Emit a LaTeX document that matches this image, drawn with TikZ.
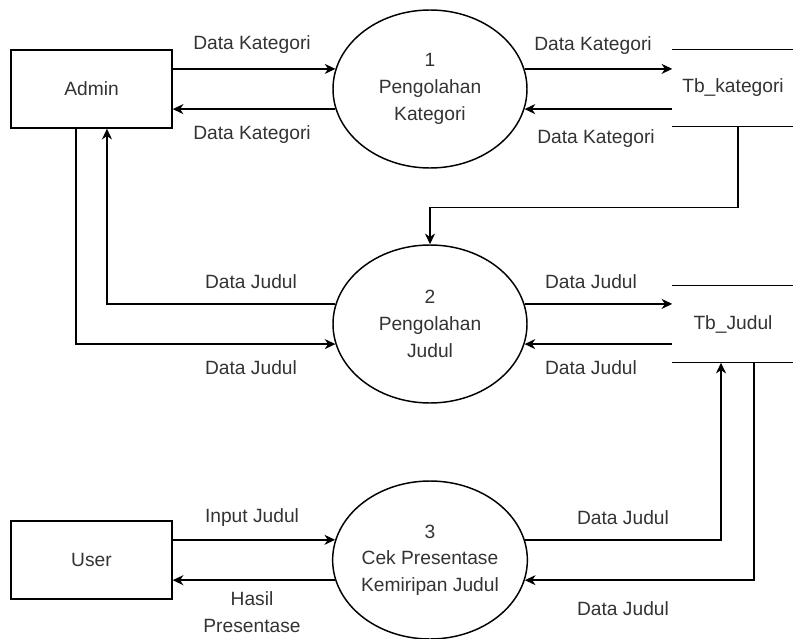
\documentclass[tikz,border=0pt]{standalone}
\usepackage{fontspec}
\setmainfont{Liberation Sans}
\usetikzlibrary{arrows.meta,shapes.geometric}
\definecolor{ink}{HTML}{333333}
\tikzset{>={Stealth[length=8pt,width=7.5pt,inset=2.5pt]},every node/.style={font=\fontsize{14.4}{20}\selectfont,text=ink},
  entity/.style={draw,minimum width=120.75pt,minimum height=58.5pt,inner sep=0pt},
  process/.style={draw,ellipse,minimum width=145.5pt,minimum height=118.5pt,inner sep=0pt,align=center},
  store/.style={minimum width=90pt,minimum height=57pt,inner sep=0pt},
  flow/.style={->},edge/.style={line cap=rect}}

\begin{document}
\begin{tikzpicture}[x=0.75pt,y=-0.75pt,line width=1.1pt]
\useasboundingbox (0,0) rectangle (793,639);
% entities
\node[entity] (admin) at (91.5,89) {Admin};
\node[entity] (user) at (91.5,560) {User};
% processes
\node[process] (proc1) at (430,89) {1\\Pengolahan\\Kategori};
\node[process] (proc2) at (430,324) {2\\Pengolahan\\Judul};
\node[process] (proc3) at (430,560) {3\\Cek Presentase\\Kemiripan Judul};
% data stores
\node[store] (tbkat) at (733,88) {Tb\_kategori};
\node[store] (tbjud) at (733,324) {Tb\_Judul};
\foreach \s in {tbkat,tbjud}{
  \draw (\s.north west)--(\s.north east);
  \draw (\s.south west)--(\s.south east);}
% flows of process 1
\draw[flow] (proc1.168 -| admin.east)--(proc1.168);
\draw[flow] (proc1.192)--(proc1.192 -| admin.east);
\draw[flow] (proc1.12)--(proc1.12 -| tbkat.west);
\draw[flow] (proc1.348 -| tbkat.west)--(proc1.348);
\draw[flow] ([xshift=3.75pt]tbkat.south)--++(0,81) -| (proc2.north);
\node (lk1) at (252,45) {Data Kategori};
\node (lk2) at (252,135) {Data Kategori};
\node (lk3) at (593,46) {Data Kategori};
\node (lk4) at (596,139) {Data Kategori};
% flows of process 2
\draw[flow] (proc2.168) -| ([xshift=11.6pt]admin.south);
\draw[flow] ([xshift=-11.6pt]admin.south) |- (proc2.192);
\draw[flow] (proc2.12)--(proc2.12 -| tbjud.west);
\draw[flow] (proc2.348 -| tbjud.west)--(proc2.348);
\node (lj1) at (251,282) {Data Judul};
\node (lj2) at (251,368) {Data Judul};
\node (lj3) at (591,282) {Data Judul};
\node (lj4) at (591,368) {Data Judul};
% flows of process 3
\draw[flow] (proc3.168 -| user.east)--(proc3.168);
\draw[flow] (proc3.192)--(proc3.192 -| user.east);
\draw[flow] (proc3.12) -| ([xshift=-9pt]tbjud.south);
\draw[flow] ([xshift=15.75pt]tbjud.south) |- (proc3.348);
\node (li) at (252,518) {Input Judul};
\node[align=center] (lh) at (252,612) {Hasil\\Presentase};
\node (lj5) at (623,518) {Data Judul};
\node (lj6) at (623,609) {Data Judul};
\end{tikzpicture}
\end{document}
